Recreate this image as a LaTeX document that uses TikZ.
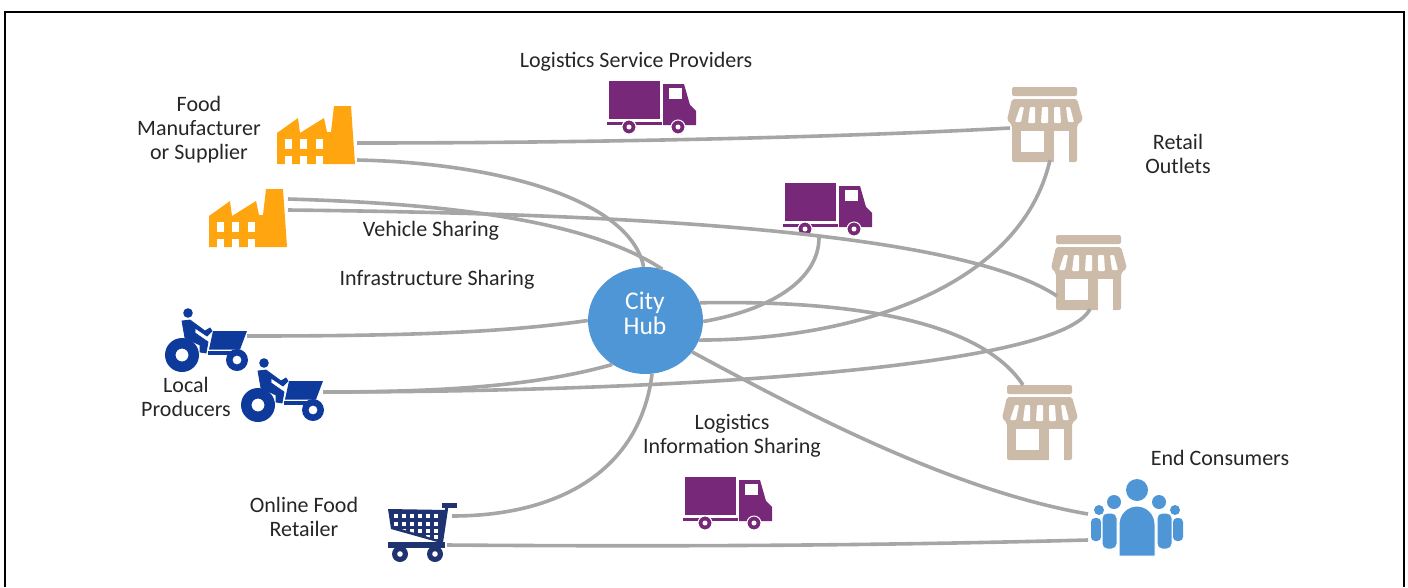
\documentclass[tikz,border=0pt]{standalone}
\usepackage{fontspec}
\setmainfont{Carlito}
\usetikzlibrary{shapes.geometric}
\definecolor{linkgrey}{HTML}{A6A6A6}
\definecolor{factorycol}{HTML}{FFA50F}
\definecolor{storecol}{HTML}{CDBBA9}
\definecolor{truckcol}{HTML}{782878}
\definecolor{hubcol}{HTML}{4F96D6}
\definecolor{tractorcol}{HTML}{0E3A9C}
\definecolor{cartcol}{HTML}{1E3370}
\tikzset{
  link/.style={draw=linkgrey,line width=3.6pt},
  lbl/.style={align=center,font=\fontsize{22}{24}\selectfont,text=black!85,inner sep=0pt},
  factory/.pic={
    \fill[factorycol] (0,58) -- (0,27) -- (21,12) -- (23,27) -- (47,12) -- (50,26) -- (54,26)
      -- (57,0) -- (74,0) -- (78,58) -- cycle;
    \foreach \px in {8,23,39} {
      \fill[white] (\px,33) rectangle ++(7,10);
      \fill[white] (\px,50) rectangle ++(7,8.5);
    }
  },
  truck/.pic={
    \fill[truckcol] (2,0) rectangle (53,38);
    \fill[truckcol] (0,41) rectangle (55,44);
    \fill[truckcol] (56,3) -- (77,3) -- (83,24) -- (89,30) -- (89,44) -- (56,44) -- cycle;
    \fill[white] (62,7) rectangle (75,18);
    \foreach \wx in {22,71} {
      \fill[truckcol,draw=white,line width=1pt] (\wx,46) circle (7);
      \fill[white] (\wx,46) circle (2.5);
    }
  },
  store/.pic={
    \fill[storecol,rounded corners=2pt] (0,0) rectangle (65,9);
    \fill[storecol,rounded corners=2pt] (0,12) -- (65,12) -- (71,33) -- (65,38) -- (65,75)
      -- (0,75) -- (0,38) -- (-5,33) -- cycle;
    \fill[white,rounded corners=1pt] (8,20) -- (12,20) -- (9,35) -- (3,35) -- cycle;
    \fill[white,rounded corners=1pt] (18,20) -- (23,20) -- (23,36) -- (16,36) -- cycle;
    \fill[white,rounded corners=1pt] (30,20) -- (36,20) -- (36,36) -- (29,36) -- cycle;
    \fill[white,rounded corners=1pt] (42,20) -- (48,20) -- (49,36) -- (42,36) -- cycle;
    \fill[white,rounded corners=1pt] (54,20) -- (58,20) -- (62,35) -- (56,35) -- cycle;
    \fill[white] (9,44) rectangle (32,65);
    \fill[white] (42,44) rectangle (57,75.5);
  },
  tractor/.pic={
    \fill[tractorcol,even odd rule] (0,0) circle (17) (0,0) circle (6.5);
    \fill[tractorcol,even odd rule] (55,5) circle (11) (55,5) circle (4.5);
    \fill[tractorcol] (31,-24) -- (65,-24) -- (58,-5.5) -- (27,-5.5) -- cycle;
    \fill[tractorcol] (26,-4) rectangle (53,-0.5);
    \fill[tractorcol] (6,-42) circle (4.8);
    \fill[tractorcol,draw=tractorcol,line width=0.8pt] (0,-34) -- (8,-35) -- (23,-24) -- (28,-27) -- (30,-24) -- (25,-19) -- (13,-27)
      -- (13,-22) -- (26,-13) -- (24,-2) -- (18,-3) -- (18,-10) -- (3,-17) -- cycle;
  }
}
\begin{document}
\begin{tikzpicture}[x=1pt,y=-1pt]
  \useasboundingbox (0,0) rectangle (1408,587);
  % frame, open at the bottom
  \draw[black,line width=1.6pt] (5,587) -- (5,12) -- (1404,12) -- (1404,587);

  % icons
  \pic (fone) at (277,106) {factory};
  \pic (ftwo) at (209,189) {factory};
  \pic (tone) at (182,355) {tractor};
  \pic (ttwo) at (258,405) {tractor};
  \pic (lone) at (607,81) {truck};
  \pic (ltwo) at (783,183) {truck};
  \pic (lthree) at (683,477) {truck};
  \pic (sone) at (1012,87) {store};
  \pic (stwo) at (1056,235) {store};
  \pic (sthree) at (1007,385) {store};

  % cart
  \fill[cartcol] (442,503) rectangle (457,508);
  \draw[cartcol,line width=3pt] (447,506) -- (441,546);
  \fill[cartcol] (388,509) -- (447,510) -- (441,543) -- (391,529) -- cycle;
  \begin{scope}
    \clip (390,511) -- (444,512) -- (439,540) -- (393,526.5) -- cycle;
    \foreach \cx in {396,404,412,420,428,436}
      \foreach \cy in {516,523.5,530.5,537}
        \fill[white] (\cx-2.2,\cy-2) rectangle ++(4.4,4);
  \end{scope}
  \fill[cartcol] (388,542) rectangle (445,548);
  \foreach \cx in {400,435} {
    \fill[cartcol] (\cx,554) circle (8);
    \fill[white] (\cx,554) circle (2.8);
  }

  % consumers
  \foreach \sx in {1091,1173}
    \fill[hubcol,rounded corners=4pt] (\sx,541) -- (\sx,518) -- (\sx+10,518) -- (\sx+10,541) -- cycle;
  \fill[hubcol] (1099,510) circle (5);
  \fill[hubcol] (1175,510) circle (5);
  \foreach \sx in {1102,1157}
    \fill[hubcol,rounded corners=5pt,draw=white,line width=1pt] (\sx,549) -- (\sx,513) -- (\sx+15,513) -- (\sx+15,549) -- cycle;
  \fill[hubcol] (1114,502) circle (7);
  \fill[hubcol] (1159,502) circle (7);
  \fill[hubcol,draw=white,line width=1pt] (1119,556) -- (1119,524) arc (180:360:18) -- (1155,556) -- cycle;
  \fill[hubcol] (1137,490) circle (11);

  % hub
  \node[ellipse,fill=hubcol,minimum width=115pt,minimum height=107pt,inner sep=0pt] (hub) at (645.5,320.5) {};
  \node[lbl,text=white,font=\fontsize{25.5}{25}\selectfont] (hubtxt) at (645,313.5) {City\\Hub};

  % free ends at the icons
  \coordinate (foneup) at (357,143);
  \coordinate (fonelow) at (357,160);
  \coordinate (ftwoup) at (288,199);
  \coordinate (ftwolow) at (288,210);
  \coordinate (tonee) at (247,336);
  \coordinate (ttwoe) at (323,392);
  \coordinate (truckb) at (819,236);
  \coordinate (sonew) at (1010,128);
  \coordinate (soneb) at (1050,160);
  \coordinate (stwow) at (1057,296);
  \coordinate (stwob) at (1090,309);
  \coordinate (sthreet) at (1023,385);
  \coordinate (cartup) at (452,516);
  \coordinate (cartlow) at (447,545);
  \coordinate (consup) at (1088,514);
  \coordinate (conslow) at (1088,540);

  % connectors
  \draw[link] (foneup) .. controls (600,143) and (850,137) .. (sonew);
  \draw[link] (fonelow) .. controls (500,163) and (630,200) .. (hub.92);
  \draw[link] (ftwoup) .. controls (420,203) and (580,215) .. (hub.72);
  \draw[link] (ftwolow) .. controls (560,213) and (950,225) .. (stwow);
  \draw[link] (tonee) .. controls (400,336) and (500,333) .. (hub.west);
  \draw[link] (ttwoe) .. controls (450,392) and (540,385) .. (hub.233);
  \draw[link] (ttwoe) .. controls (650,392) and (1060,370) .. (stwob);
  \draw[link] (hub.-1) .. controls (770,310) and (820,280) .. (truckb);
  \draw[link] (hub.-20) .. controls (850,340) and (1020,290) .. (soneb);
  \draw[link] (hub.18) .. controls (850,300) and (980,320) .. (sthreet);
  \draw[link] (hub.-34) .. controls (800,410) and (950,490) .. (consup);
  \draw[link] (hub.-83) .. controls (640,470) and (560,516) .. (cartup);
  \draw[link] (cartlow) .. controls (700,547) and (900,545) .. (conslow);

  % labels
  \node[lbl] (lsp) at (636,61.5) {Logistics Service Providers};
  \node[lbl] (food) at (199,129.5) {Food\\Manufacturer\\or Supplier};
  \node[lbl] (retail) at (1178,154) {Retail\\Outlets};
  \node[lbl] (vehicle) at (431,230.5) {Vehicle Sharing};
  \node[lbl] (infra) at (437,279.5) {Infrastructure Sharing};
  \node[lbl] (local) at (186,397) {Local\\Producers};
  \node[lbl] (info) at (732,435.5) {Logistics\\Information Sharing};
  \node[lbl] (online) at (304,517) {Online Food\\Retailer};
  \node[lbl] (endc) at (1220,458) {End Consumers};
\end{tikzpicture}
\end{document}
